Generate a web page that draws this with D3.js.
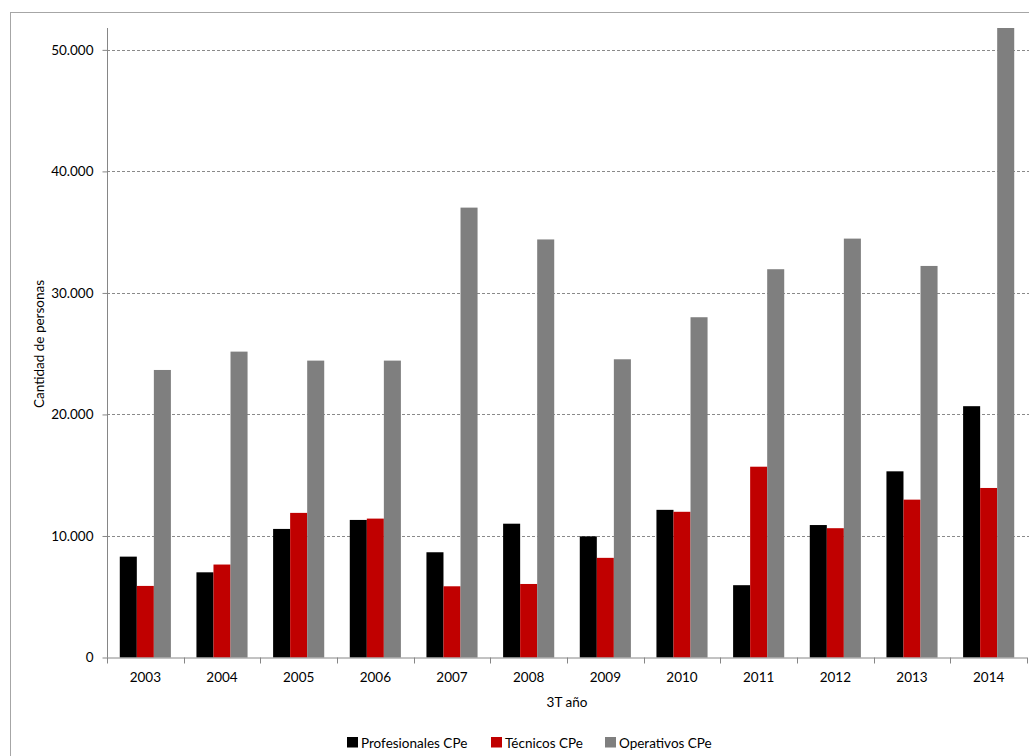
<!DOCTYPE html>
<html>
<head>
<meta charset="utf-8">
<script src="https://cdn.jsdelivr.net/npm/d3@7"></script>
<style>
  html, body { margin: 0; padding: 0; background: #fff; }
  svg { display: block; font-family: Lato, "Open Sans", sans-serif; }
</style>
</head>
<body>
<svg id="chart" width="1029" height="756"></svg>
<script>
const years = ["2003","2004","2005","2006","2007","2008","2009","2010","2011","2012","2013","2014"];
const seriesNames = ["Profesionales CPe", "Técnicos CPe", "Operativos CPe"];
const profesionales = [8300, 7010, 10580, 11320, 8660, 11010, 9970, 12150, 5950, 10900, 15320, 20680];
const tecnicos      = [5890, 7650, 11900, 11430, 5860, 6050, 8200, 11990, 15700, 10640, 12990, 13950];
const operativos    = [23660, 25170, 24430, 24430, 37020, 34400, 24540, 28000, 31950, 34470, 32220, 51800];
const yTicks = [0, 10000, 20000, 30000, 40000, 50000];
const colors = ["#000000", "#C00000", "#7F7F7F"];
const yTitle = "Cantidad de personas";
const xTitle = "3T año";

const seriesValues = [profesionales, tecnicos, operativos];
const svg = d3.select("#chart");

// outer chart border
svg.append("rect").attr("x", 10.5).attr("y", 12.5).attr("width", 1040).attr("height", 760)
  .attr("fill", "none").attr("stroke", "#a6a6a6").attr("stroke-width", 1);

const m = { left: 107, top: 28, right: 1027, bottom: 657.5 };
const x0 = d3.scaleBand().domain(years).range([m.left, m.right]).paddingInner(0).paddingOuter(0);
// Excel gap width 150%: group = 3 bars, gap = 1.5 bars
const gapSide = x0.bandwidth() * 0.75 / 4.5;
const x1 = d3.scaleBand().domain(seriesNames).range([gapSide, x0.bandwidth() - gapSide]).padding(0);
const y = d3.scaleLinear().domain([0, 51800]).range([m.bottom, m.top]);

const locale = d3.formatLocale({ decimal: ",", thousands: ".", grouping: [3], currency: ["", ""] });
const fmt = locale.format(",d");

// gridlines
svg.append("g").selectAll("line").data(yTicks.filter(d => d > 0)).join("line")
  .attr("x1", m.left).attr("x2", m.right + 2)
  .attr("y1", d => Math.round(y(d)) + 0.5).attr("y2", d => Math.round(y(d)) + 0.5)
  .attr("stroke", "#8a8a8a").attr("stroke-width", 1).attr("stroke-dasharray", "3,2");

// bars
const groups = svg.append("g").selectAll("g").data(years).join("g")
  .attr("transform", d => `translate(${x0(d)},0)`);
groups.selectAll("rect").data((d, i) => seriesNames.map((s, k) => ({ s, v: seriesValues[k][i], k })))
  .join("rect")
  .attr("x", d => x1(d.s)).attr("width", x1.bandwidth())
  .attr("y", d => y(d.v)).attr("height", d => y(0) - y(d.v))
  .attr("fill", d => colors[d.k]);

// y axis
const yAxis = d3.axisLeft(y).tickValues(yTicks).tickFormat(fmt).tickSize(5).tickPadding(9);
const gy = svg.append("g").attr("transform", `translate(${m.left + 0.5},0)`).call(yAxis);
gy.select(".domain").attr("stroke", "#868686").attr("d", `M0,${m.top}V${m.bottom}`);
gy.selectAll(".tick line").attr("stroke", "#868686");
gy.selectAll(".tick text").attr("font-size", 13.5).attr("fill", "#000").style("font-family", "Lato, sans-serif");

// x axis
const xAxis = d3.axisBottom(x0).tickSize(0).tickPadding(14);
const gx = svg.append("g").attr("transform", `translate(0,${m.bottom + 0.5})`).call(xAxis);
gx.select(".domain").attr("stroke", "#868686").attr("d", `M${m.left},0H${m.right}`);
gx.selectAll(".tick text").attr("font-size", 13.5).attr("fill", "#000").style("font-family", "Lato, sans-serif");
// boundary ticks
svg.append("g").selectAll("line").data(years.concat(["end"])).join("line")
  .attr("x1", d => Math.round(d === "end" ? m.right : x0(d)) + 0.5)
  .attr("x2", d => Math.round(d === "end" ? m.right : x0(d)) + 0.5)
  .attr("y1", m.bottom).attr("y2", m.bottom + 6)
  .attr("stroke", "#868686");

// axis titles
svg.append("text").attr("transform", `translate(44,344) rotate(-90)`)
  .attr("text-anchor", "middle").attr("font-size", 13.5).text(yTitle);
svg.append("text").attr("x", 567).attr("y", 707)
  .attr("text-anchor", "middle").attr("font-size", 13.5).text(xTitle);

// legend
const legendX = [347, 491, 605];
const lg = svg.append("g").selectAll("g").data(seriesNames).join("g")
  .attr("transform", (d, i) => `translate(${legendX[i]},737)`);
lg.append("rect").attr("width", 11).attr("height", 10.5).attr("fill", (d, i) => colors[i]);
lg.append("text").attr("x", 14).attr("y", 10.5).attr("font-size", 13.5).text(d => d);
</script>
</body>
</html>
